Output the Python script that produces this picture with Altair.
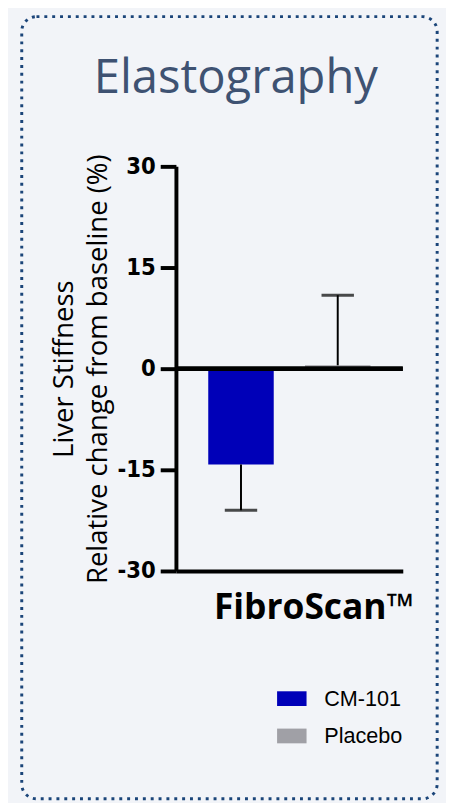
import altair as alt
import pandas as pd

groups = ["CM-101", "Placebo"]
means = [-14.2, 0.5]
err_end = [-21.0, 10.9]
y_ticks = [-30, -15, 0, 15, 30]
colors = ["#0000b8", "#a0a0a6"]

df = pd.DataFrame({"group": groups, "mean": means, "err": err_end})

xs = alt.X(
    "group:N",
    scale=alt.Scale(paddingInner=0.323, paddingOuter=0.334),
    axis=alt.Axis(
        labels=False, ticks=False, domainColor="black", domainWidth=4,
        title="FibroScan™", titleFont="Open Sans", titleFontSize=36,
        titleFontWeight="bold", titleColor="black", titleX=140, titleY=48,
        titleAlign="center", titleBaseline="alphabetic", titleAnchor="start",
    ),
)
ys = alt.Y(
    "mean:Q",
    scale=alt.Scale(domain=[-30, 30], nice=False, zero=False),
    axis=alt.Axis(
        values=y_ticks, grid=False, domainColor="black", domainWidth=4,
        tickColor="black", tickWidth=4, tickSize=16, labelPadding=5,
        labelExpr="'' + datum.value",
        labelFont="Liberation Sans Narrow, DejaVu Sans Condensed, sans-serif",
        labelFontWeight="bold", labelFontSize=24, labelColor="black",
        title=["Liver Stiffness", "Relative change from baseline (%)"],
        titleFont="Open Sans", titleFontSize=28, titleFontWeight="normal",
        titleColor="black", titleAngle=270, titleX=-105, titleY=206,
        titleAlign="center", titleBaseline="alphabetic", titleLineHeight=34,
    ),
)

base = alt.Chart(df)

bars = base.mark_bar().encode(
    x=xs,
    y=ys,
    color=alt.Color(
        "group:N",
        scale=alt.Scale(domain=groups, range=colors),
        legend=alt.Legend(
            title=None, orient="none", legendX=103, legendY=527,
            symbolType="M-1,-0.5H1V0.5H-1Z", symbolSize=900,
            symbolStrokeWidth=0, labelFont="Liberation Sans",
            labelFontSize=22, labelColor="black", labelOffset=18,
            rowPadding=12, padding=0,
        ),
    ),
)

err_line = base.mark_rule(color="black", strokeWidth=2).encode(
    x="group:N", y="mean:Q", y2="err:Q"
)
caps = base.mark_tick(color="black", thickness=3, size=33, orient="horizontal").encode(
    x="group:N", y="err:Q"
)
zero = base.mark_rule(color="black", strokeWidth=4.5).encode(y=alt.datum(0))

border = alt.Chart(pd.DataFrame({"a": [0]})).mark_rect(
    fillOpacity=0, stroke="#1b4579", strokeWidth=3, strokeDash=[3, 5],
    cornerRadius=15,
).encode(
    x=alt.value(-157), x2=alt.value(266), y=alt.value(-152.5), y2=alt.value(644)
)

chart = alt.layer(bars, err_line, caps, zero, border).properties(
    width=231,
    height=412,
    padding={"left": 171, "top": 154, "right": 44, "bottom": 229},
    autosize=alt.AutoSizeParams(type="none"),
    background="#f2f4f8",
    title=alt.TitleParams(
        text="Elastography", font="Open Sans", fontSize=48, fontWeight="normal",
        color="#3e5272", anchor="middle", dx=-54.5, dy=127, baseline="alphabetic",
        offset=0,
    ),
).configure_view(strokeWidth=0)

chart.save("out.html", embed_options={"renderer": "svg", "actions": False})
